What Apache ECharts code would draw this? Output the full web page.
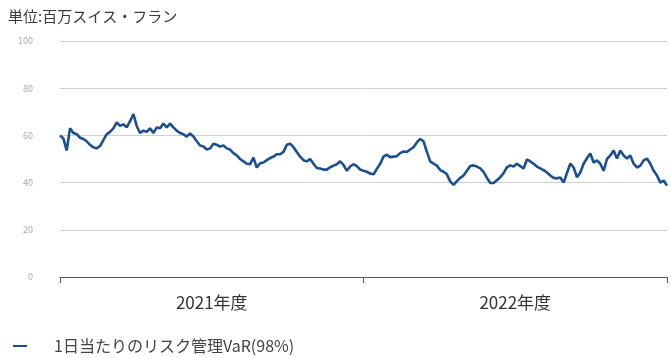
<!DOCTYPE html>
<html>
<head>
<meta charset="utf-8">
<script src="https://cdn.jsdelivr.net/npm/echarts@6/dist/echarts.min.js"></script>
<style>
html,body{margin:0;padding:0;background:#fff;}
#chart{width:671px;height:358px;}
</style>
</head>
<body>
<div id="chart"></div>
<script>
// Fiscal-year labels (bracket axis)
const fiscalYears = ['2021年度', '2022年度'];
// Y-axis ticks
const yTicks = [0, 20, 40, 60, 80, 100];
// Daily VaR (sampled), million CHF
const varValues = [
  60, 58.7, 53.6, 63, 61, 60.5, 59, 58.5, 57.5, 56,
  55, 54.5, 55.5, 58, 60.5, 61.5, 63, 65.5, 64, 64.7,
  63.4, 66, 69, 64, 61, 62, 61.5, 63, 61, 63.4,
  63, 65, 63.4, 65, 63.4, 62, 61, 60.5, 59.5, 60.8,
  59.5, 57.5, 55.7, 55.3, 54, 54.5, 56.5, 56, 55.3, 55.7,
  54.5, 54, 52.5, 51.5, 50, 49, 48, 47.8, 50.6, 46.4,
  48.2, 48.5, 49.5, 50.4, 51, 52, 52, 53, 56, 56.5,
  55, 53, 51, 49.5, 49, 50, 48, 46.2, 46, 45.5,
  45.5, 46.5, 47.2, 47.8, 49, 47.5, 45, 46.8, 47.8, 47,
  45.5, 45, 44.6, 43.8, 43.5, 45.8, 48, 51, 51.8, 50.8,
  51, 51.2, 52.5, 53.2, 53, 54, 55, 57, 58.5, 57.5,
  53, 49, 48, 47.2, 45.3, 44.6, 43.5, 40.5, 39, 40.6,
  42, 43, 45, 47, 47.3, 46.8, 46, 44.5, 42, 39.8,
  39.8, 41, 42.3, 44, 46.5, 47.3, 46.8, 48, 47, 46,
  49.8, 49, 48, 46.8, 46, 45.3, 44.3, 43, 42, 41.8,
  42.1, 40, 44, 48, 46.4, 42.3, 44.3, 48, 50.3, 52.3,
  48.5, 49.4, 48, 45, 50, 51.5, 53.6, 50.2, 53.6, 51.5,
  50.2, 51.5, 48, 46.4, 47.2, 49.4, 50.2, 48, 45, 43,
  40, 40.9, 38.7
];
const sampleIndex = varValues.map((_, i) => String(i));
const seriesName = '1日当たりのリスク管理VaR(98%)';
const unitTitle = '単位:百万スイス・フラン';

const font = '"Noto Sans CJK JP", "Noto Sans", sans-serif';
const chart = echarts.init(document.getElementById('chart'), null, {renderer: 'canvas'});
chart.setOption({
  animation: false,
  textStyle: {fontFamily: font},
  title: {
    text: unitTitle,
    left: 3, top: 4,
    textStyle: {fontSize: 15, fontWeight: 'normal', color: '#3a3a3a', fontFamily: font}
  },
  legend: {
    data: [seriesName],
    left: 8, top: 333,
    icon: 'rect', itemWidth: 14, itemHeight: 2,
    textStyle: {fontSize: 16, color: '#444', fontFamily: font, padding: [0, 0, 0, 22]}
  },
  grid: {left: 60, right: 4, top: 41, bottom: 81, containLabel: false},
  xAxis: [
    {type: 'category', data: sampleIndex, boundaryGap: false, show: false},
    {
      type: 'category', data: fiscalYears, boundaryGap: true, position: 'bottom',
      axisLine: {show: true, lineStyle: {color: '#555', width: 1}},
      axisTick: {show: true, length: 6, lineStyle: {color: '#555'}},
      axisLabel: {fontSize: 17, color: '#333', margin: 17, fontFamily: font},
      splitLine: {show: false}
    }
  ],
  yAxis: {
    type: 'value', min: yTicks[0], max: yTicks[yTicks.length - 1], interval: 20,
    axisLine: {show: false}, axisTick: {show: false},
    axisLabel: {fontSize: 9, color: '#aaa', margin: 27, fontFamily: font},
    splitLine: {lineStyle: {color: '#cfcfcf', width: 1}}
  },
  series: [{
    name: seriesName, type: 'line', xAxisIndex: 0,
    data: varValues, showSymbol: false, symbol: 'none',
    lineStyle: {color: '#1b4f91', width: 2.6},
    itemStyle: {color: '#1b4f91'}
  }]
});
</script>
</body>
</html>
